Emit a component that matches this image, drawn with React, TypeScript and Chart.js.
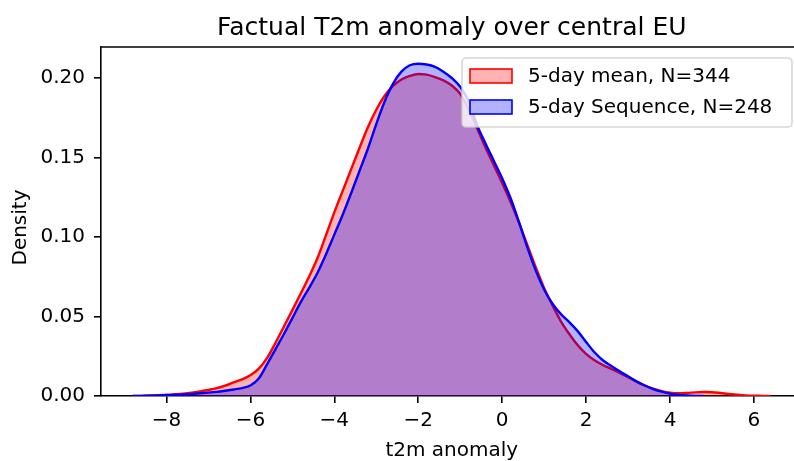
import React, { useEffect, useRef } from 'react';
import { Chart, registerables } from 'chart.js';

Chart.register(...registerables);

const titleText = 'Factual T2m anomaly over central EU';
const xAxisTitle = 't2m anomaly';
const yAxisTitle = 'Density';
const seriesLabels = ['5-day mean, N=344', '5-day Sequence, N=248'];

const xTicks = [-8, -6, -4, -2, 0, 2, 4, 6];
const yTicks = [0, 0.05, 0.1, 0.15, 0.2];
const xRange = [-9.56, 7.16];
const yRange = [0, 0.2195];

const meanX = [
  -8.8, -8.6, -8.4, -8.2, -8.0, -7.8, -7.6, -7.4, -7.2, -7.0,
  -6.8, -6.6, -6.4, -6.2, -6.0, -5.8, -5.6, -5.4, -5.2, -5.0,
  -4.8, -4.6, -4.4, -4.2, -4.0, -3.8, -3.6, -3.4, -3.2, -3.0,
  -2.8, -2.6, -2.4, -2.2, -2.0, -1.8, -1.6, -1.4, -1.2, -1.0,
  -0.8, -0.6, -0.4, -0.2, 0.0, 0.2, 0.4, 0.6, 0.8, 1.0,
  1.2, 1.4, 1.6, 1.8, 2.0, 2.2, 2.4, 2.6, 2.8, 3.0,
  3.2, 3.4, 3.6, 3.8, 4.0, 4.2, 4.4, 4.6, 4.8, 5.0,
  5.2, 5.4, 5.6, 5.8, 6.0, 6.2, 6.4,
];
const meanY = [
  0.0000, 0.0001, 0.0003, 0.0005, 0.0008, 0.0011, 0.0015, 0.0021, 0.0029, 0.0038,
  0.0049, 0.0065, 0.0086, 0.0105, 0.0130, 0.0172, 0.0240, 0.0335, 0.0437, 0.0540,
  0.0645, 0.0752, 0.0868, 0.1010, 0.1155, 0.1290, 0.1425, 0.1560, 0.1690, 0.1800,
  0.1888, 0.1950, 0.1990, 0.2013, 0.2025, 0.2021, 0.2006, 0.1985, 0.1953, 0.1900,
  0.1805, 0.1685, 0.1565, 0.1452, 0.1340, 0.1220, 0.1090, 0.0950, 0.0810, 0.0680,
  0.0570, 0.0470, 0.0390, 0.0320, 0.0265, 0.0225, 0.0195, 0.0170, 0.0145, 0.0118,
  0.0090, 0.0066, 0.0046, 0.0031, 0.0021, 0.0017, 0.0019, 0.0023, 0.0025, 0.0024,
  0.0019, 0.0013, 0.0008, 0.0004, 0.0002, 0.0001, 0.0000,
];

const seqX = [
  -8.8, -8.6, -8.4, -8.2, -8.0, -7.8, -7.6, -7.4, -7.2, -7.0,
  -6.8, -6.6, -6.4, -6.2, -6.0, -5.8, -5.6, -5.4, -5.2, -5.0,
  -4.8, -4.6, -4.4, -4.2, -4.0, -3.8, -3.6, -3.4, -3.2, -3.0,
  -2.8, -2.6, -2.4, -2.2, -2.0, -1.8, -1.6, -1.4, -1.2, -1.0,
  -0.8, -0.6, -0.4, -0.2, 0.0, 0.2, 0.4, 0.6, 0.8, 1.0,
  1.2, 1.4, 1.6, 1.8, 2.0, 2.2, 2.4, 2.6, 2.8, 3.0,
  3.2, 3.4, 3.6, 3.8, 4.0, 4.2, 4.4, 4.6, 4.8,
];
const seqY = [
  0.0000, 0.0001, 0.0002, 0.0003, 0.0005, 0.0007, 0.0010, 0.0013, 0.0017, 0.0021,
  0.0026, 0.0033, 0.0041, 0.0050, 0.0066, 0.0110, 0.0200, 0.0295, 0.0390, 0.0490,
  0.0590, 0.0680, 0.0775, 0.0890, 0.1015, 0.1140, 0.1275, 0.1415, 0.1555, 0.1710,
  0.1852, 0.1965, 0.2040, 0.2080, 0.2090, 0.2085, 0.2070, 0.2040, 0.2000, 0.1945,
  0.1855, 0.1705, 0.1590, 0.1480, 0.1370, 0.1245, 0.1095, 0.0935, 0.0790, 0.0670,
  0.0580, 0.0515, 0.0465, 0.0408, 0.0340, 0.0275, 0.0225, 0.0188, 0.0155, 0.0124,
  0.0092, 0.0066, 0.0044, 0.0027, 0.0015, 0.0007, 0.0003, 0.0001, 0.0000,
];

const FONT = 'DejaVu Sans';
const lineColors = ['rgb(255,0,0)', 'rgb(0,0,255)'];
const fillColors = ['rgba(255,0,0,0.3)', 'rgba(0,0,255,0.3)'];

const framePlugin = {
  id: 'frame',
  afterDraw(chart: any) {
    const { ctx, chartArea } = chart;
    const { left, right, top, bottom } = chartArea;
    ctx.save();
    // top & right spines
    ctx.strokeStyle = '#000';
    ctx.lineWidth = 1.6;
    ctx.beginPath();
    ctx.moveTo(left, top);
    ctx.lineTo(right, top);
    ctx.lineTo(right, bottom);
    ctx.stroke();
    // title
    ctx.fillStyle = '#000';
    ctx.font = `25px "${FONT}"`;
    ctx.textAlign = 'center';
    ctx.textBaseline = 'alphabetic';
    ctx.fillText(titleText, (left + right) / 2, top - 12.5);
    // y axis label
    ctx.save();
    ctx.translate(20.7, (top + bottom) / 2 + 6);
    ctx.rotate(-Math.PI / 2);
    ctx.font = `20px "${FONT}"`;
    ctx.textAlign = 'center';
    ctx.textBaseline = 'middle';
    ctx.fillText(yAxisTitle, 0, 0);
    ctx.restore();
    // legend
    const bw = 330;
    const bh = 69;
    const bx = right - 10.6 - bw;
    const by = top + 11;
    const r = 4;
    ctx.beginPath();
    ctx.moveTo(bx + r, by);
    ctx.lineTo(bx + bw - r, by);
    ctx.arcTo(bx + bw, by, bx + bw, by + r, r);
    ctx.lineTo(bx + bw, by + bh - r);
    ctx.arcTo(bx + bw, by + bh, bx + bw - r, by + bh, r);
    ctx.lineTo(bx + r, by + bh);
    ctx.arcTo(bx, by + bh, bx, by + bh - r, r);
    ctx.lineTo(bx, by + r);
    ctx.arcTo(bx, by, bx + r, by, r);
    ctx.closePath();
    ctx.fillStyle = 'rgba(255,255,255,0.8)';
    ctx.fill();
    ctx.strokeStyle = 'rgba(204,204,204,0.8)';
    ctx.lineWidth = 1.6;
    ctx.stroke();
    ctx.font = `20px "${FONT}"`;
    ctx.textAlign = 'left';
    ctx.textBaseline = 'middle';
    seriesLabels.forEach((lab, i) => {
      const cy = by + 18 + i * 31;
      ctx.fillStyle = '#fff';
      ctx.fillRect(bx + 8, cy - 7, 42, 14);
      ctx.fillStyle = fillColors[i];
      ctx.fillRect(bx + 8, cy - 7, 42, 14);
      ctx.strokeStyle = lineColors[i];
      ctx.lineWidth = 1.6;
      ctx.strokeRect(bx + 8, cy - 7, 42, 14);
      ctx.fillStyle = '#000';
      ctx.fillText(lab, bx + 66, cy + 1);
    });
    ctx.restore();
  },
};

export default function App() {
  const ref = useRef<HTMLCanvasElement | null>(null);

  useEffect(() => {
    if (!ref.current) return;
    const chart = new Chart(ref.current, {
      type: 'line',
      data: {
        datasets: [
          {
            label: seriesLabels[0],
            data: meanX.map((x, i) => ({ x, y: meanY[i] })),
            borderColor: lineColors[0],
            backgroundColor: fillColors[0],
            borderWidth: 2.4,
            fill: 'origin',
            pointRadius: 0,
            cubicInterpolationMode: 'monotone',
            order: 2,
          },
          {
            label: seriesLabels[1],
            data: seqX.map((x, i) => ({ x, y: seqY[i] })),
            borderColor: lineColors[1],
            backgroundColor: fillColors[1],
            borderWidth: 2.4,
            fill: 'origin',
            pointRadius: 0,
            cubicInterpolationMode: 'monotone',
            order: 1,
          },
        ],
      },
      options: {
        responsive: false,
        animation: false,
        devicePixelRatio: 1,
        layout: { padding: { left: 0, right: 7.4, top: 47, bottom: 0 } },
        plugins: {
          legend: { display: false },
          title: { display: false },
          tooltip: { enabled: false },
        },
        scales: {
          x: {
            type: 'linear',
            min: xRange[0],
            max: xRange[1],
            afterFit: (s: any) => { s.height = 74; },
            afterBuildTicks: (s: any) => { s.ticks = xTicks.map((v) => ({ value: v })); },
            ticks: {
              autoSkip: false,
              maxRotation: 0,
              padding: 6,
              color: '#000',
              font: { family: FONT, size: 20 },
              callback: (v: any) => (v < 0 ? '\u2212' + Math.abs(v) : String(v)),
            },
            grid: { drawOnChartArea: false, drawTicks: true, tickLength: 7, color: '#000', lineWidth: 1.6 },
            border: { display: true, color: '#000', width: 1.6 },
            title: {
              display: true,
              text: xAxisTitle,
              color: '#000',
              font: { family: FONT, size: 20 },
              padding: { top: 0, bottom: 7 },
            },
          },
          y: {
            type: 'linear',
            min: yRange[0],
            max: yRange[1],
            afterFit: (s: any) => { s.width = 101; },
            afterBuildTicks: (s: any) => { s.ticks = yTicks.map((v) => ({ value: v })); },
            ticks: {
              autoSkip: false,
              padding: 9,
              color: '#000',
              font: { family: FONT, size: 20 },
              callback: (v: any) => Number(v).toFixed(2),
            },
            grid: { drawOnChartArea: false, drawTicks: true, tickLength: 7, color: '#000', lineWidth: 1.6 },
            border: { display: true, color: '#000', width: 1.6 },
            title: { display: false },
          },
        },
      },
      plugins: [framePlugin],
    } as any);
    return () => chart.destroy();
  }, []);

  return (
    <div style={{ position: 'fixed', left: 0, top: 0, width: 794, height: 461, overflow: 'hidden', background: '#fff' }}>
      <canvas ref={ref} width={810} height={470} style={{ width: 810, height: 470, display: 'block' }} />
    </div>
  );
}
